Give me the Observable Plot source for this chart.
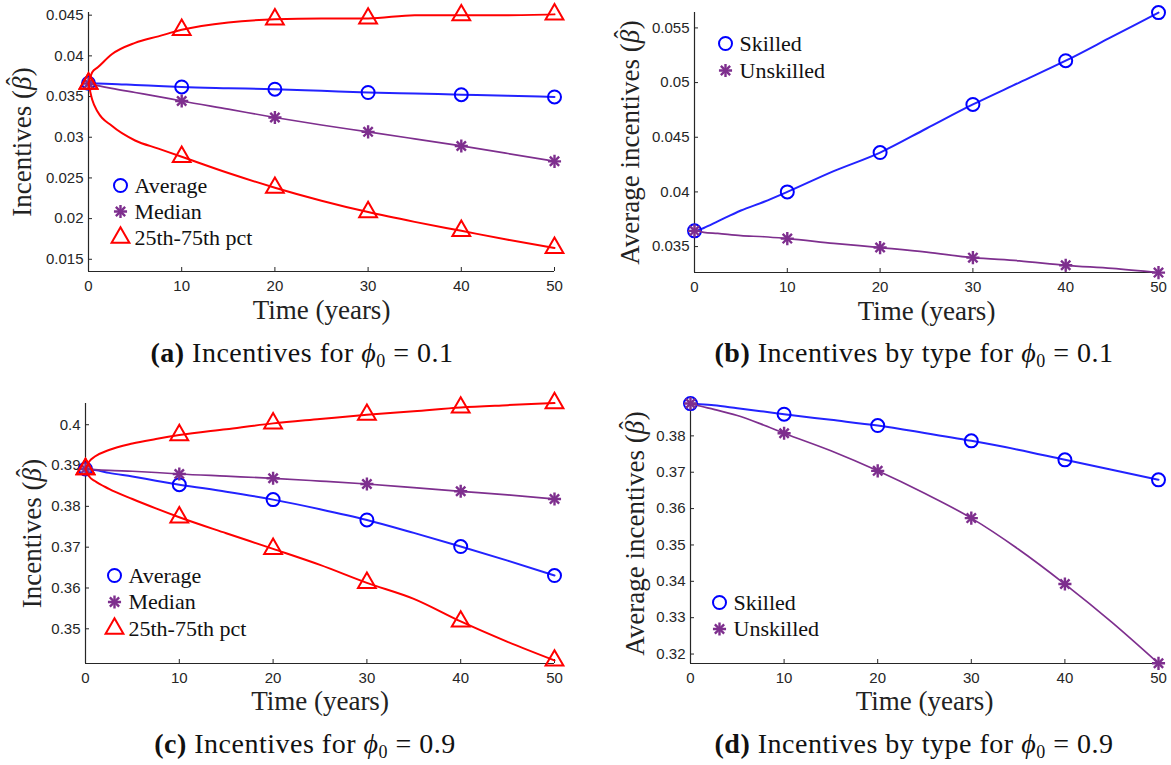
<!DOCTYPE html>
<html><head><meta charset="utf-8">
<script src="https://cdn.jsdelivr.net/npm/d3@7"></script>
<script src="https://cdn.jsdelivr.net/npm/@observablehq/plot@0.6"></script>
<style>
body{margin:0;background:#fff;}
#wrap{position:relative;width:1171px;height:765px;overflow:hidden;background:#fff;}
.panel{position:absolute;}
.cap{position:absolute;font-family:"Liberation Serif","DejaVu Serif",serif;font-size:28px;letter-spacing:0.5px;color:#111;white-space:nowrap;transform:translateX(-50%);line-height:30px;}
.cap sub{font-size:18px;vertical-align:-5px;line-height:0;}
</style></head><body><div id="wrap"></div>
<script>
// ---------- data ----------
const T = [0, 0.4, 1, 2.5, 5, 7.5, 10, 15, 20, 25, 30, 35, 40, 45, 50];
const xTicks = [0, 10, 20, 30, 40, 50];

// (a) phi0 = 0.1
const aAverage = [0.03664, 0.03663, 0.03660, 0.03655, 0.03642, 0.03630, 0.03618, 0.03603, 0.03590, 0.03570, 0.03550, 0.03537, 0.03523, 0.03510, 0.03495];
const aMedian  = [0.03660, 0.03650, 0.03635, 0.03600, 0.03550, 0.03500, 0.03445, 0.03345, 0.03243, 0.03150, 0.03066, 0.02980, 0.02893, 0.02800, 0.02704];
const aP75     = [0.03660, 0.03800, 0.03860, 0.04020, 0.04160, 0.04240, 0.04320, 0.04410, 0.04450, 0.04460, 0.04460, 0.04500, 0.04500, 0.04500, 0.04510];
const aP25     = [0.03660, 0.03460, 0.03310, 0.03140, 0.02960, 0.02860, 0.02760, 0.02560, 0.02380, 0.02220, 0.02080, 0.01960, 0.01850, 0.01740, 0.01640];
const aTicks = [0.015, 0.02, 0.025, 0.03, 0.035, 0.04, 0.045];

// (b) phi0 = 0.1 by type
const bSkilled   = [0.03644, 0.03650, 0.03670, 0.03730, 0.03830, 0.03910, 0.04000, 0.04190, 0.04360, 0.04580, 0.04800, 0.05000, 0.05200, 0.05420, 0.05640];
const bUnskilled = [0.03644, 0.03640, 0.03630, 0.03620, 0.03600, 0.03590, 0.03573, 0.03530, 0.03491, 0.03450, 0.03399, 0.03370, 0.03329, 0.03300, 0.03262];
const bTicks = [0.035, 0.04, 0.045, 0.05, 0.055];

// (c) phi0 = 0.9
const cAverage = [0.38915, 0.38900, 0.38890, 0.38820, 0.38730, 0.38630, 0.38532, 0.38360, 0.38165, 0.37930, 0.37667, 0.37350, 0.37015, 0.36670, 0.36305];
const cMedian  = [0.38915, 0.38910, 0.38900, 0.38880, 0.38860, 0.38830, 0.38793, 0.38740, 0.38687, 0.38620, 0.38548, 0.38460, 0.38369, 0.38280, 0.38181];
const cP75     = [0.38915, 0.39100, 0.39220, 0.39380, 0.39540, 0.39650, 0.39747, 0.39890, 0.40033, 0.40140, 0.40245, 0.40330, 0.40424, 0.40480, 0.40530];
const cP25     = [0.38915, 0.38730, 0.38620, 0.38430, 0.38180, 0.37950, 0.37732, 0.37340, 0.36958, 0.36566, 0.36126, 0.35734, 0.35180, 0.34680, 0.34225];
const cTicks = [0.35, 0.36, 0.37, 0.38, 0.39, 0.4];

// (d) phi0 = 0.9 by type
const dSkilled   = [0.38888, 0.38880, 0.38870, 0.38840, 0.38760, 0.38680, 0.38595, 0.38440, 0.38284, 0.38080, 0.37863, 0.37620, 0.37341, 0.37070, 0.36791];
const dUnskilled = [0.38888, 0.38860, 0.38820, 0.38730, 0.38560, 0.38330, 0.38073, 0.37590, 0.37038, 0.36420, 0.35738, 0.34890, 0.33925, 0.32880, 0.31745];
const dTicks = [0.32, 0.33, 0.34, 0.35, 0.36, 0.37, 0.38];

// ---------- styling ----------
const BLUE = "#0000ff", LBLUE = "#2323ff", PURPLE = "#7e2f8e", RED = "#ff0000";
const SERIF = "'Liberation Serif', 'DejaVu Serif', serif";
const SANS = "'Liberation Sans', Arial, sans-serif";
const fmt = d => String(+d.toFixed(3));

const styles = {
  circle:   {symbol: "circle", r: 6.5, stroke: BLUE, line: LBLUE, lw: 2},
  asterisk: {symbol: "asterisk", r: 4.3, stroke: PURPLE, line: PURPLE, lw: 1.7},
  triangle: {symbol: "triangle2", r: 8.5, stroke: RED, line: RED, lw: 2}
};

function rows(vals){ return T.map((t, i) => ({t, v: vals[i]})); }

function markerMarks(data, st, extra){
  if (st.symbol === "asterisk") {
    return ["plus", "times"].map(sym => Plot.dot(data, {...extra, symbol: sym, r: st.r, stroke: st.stroke, strokeWidth: 2.4, fill: "none"}));
  }
  return [Plot.dot(data, {...extra, symbol: st.symbol, r: st.r, stroke: st.stroke, strokeWidth: 2, fill: "none"})];
}

function panel(cfg){
  const marks = [];
  marks.push(Plot.ruleX([0], {stroke: "#262626", strokeWidth: 1.2}));
  marks.push(Plot.ruleY([cfg.domain[0]], {stroke: "#262626", strokeWidth: 1.2}));
  marks.push(Plot.axisX({ticks: xTicks, tickSize: -4, tickPadding: 13, fontSize: 15, fontFamily: SANS, label: null, tickFormat: d => String(d)}));
  marks.push(Plot.axisY({ticks: cfg.yTicks, tickSize: -4, tickPadding: 9, fontSize: 15, fontFamily: SANS, label: null, tickFormat: fmt}));
  for (const s of cfg.series){
    const st = styles[s.kind];
    const data = rows(s.values);
    marks.push(Plot.line(data, {x: "t", y: "v", stroke: st.line, strokeWidth: st.lw, curve: "monotone-x"}));
    for (const m of markerMarks(data.filter(d => xTicks.includes(d.t)), st, {x: "t", y: "v"})) marks.push(m);
  }
  // legend
  cfg.legend.items.forEach((it, i) => {
    const st = styles[it.kind];
    const dy = cfg.legend.dy + i * cfg.legend.step;
    for (const m of markerMarks([0], st, {frameAnchor: "top-left", dx: cfg.legend.dx, dy})) marks.push(m);
    marks.push(Plot.text([it.label], {frameAnchor: "top-left", dx: cfg.legend.dx + 14, dy, textAnchor: "start", lineAnchor: "middle", fontSize: 22, fontFamily: SERIF, fill: "#111"}));
  });
  // axis labels
  marks.push(Plot.text(["Time (years)"], {frameAnchor: "bottom", dy: cfg.xlabelDy, textAnchor: "middle", lineAnchor: "middle", fontSize: 27, fontFamily: SERIF, fill: "#222", letterSpacing: "1px"}));
  marks.push(Plot.text([cfg.ylabel], {frameAnchor: "left", dx: cfg.ylabelDx, rotate: -90, textAnchor: "middle", lineAnchor: "middle", fontSize: 27, fontFamily: SERIF, fill: "#222", letterSpacing: "1px"}));

  const svg = Plot.plot({
    width: cfg.width, height: cfg.height,
    marginLeft: cfg.mL, marginRight: cfg.mR, marginTop: cfg.mT, marginBottom: cfg.mB,
    x: {domain: [0, 50]},
    y: {domain: cfg.domain},
    style: {overflow: "visible", background: "transparent", color: "#262626"},
    marks
  });
  // italic beta with a hat placed above it
  svg.querySelectorAll("text").forEach(t => {
    if (t.textContent.includes("(β)")) {
      const [pre, post] = t.textContent.split("β");
      t.textContent = "";
      const ns = "http://www.w3.org/2000/svg";
      const mk = (s, attrs = {}) => { const e = document.createElementNS(ns, "tspan"); e.textContent = s; for (const k in attrs) e.setAttribute(k, attrs[k]); return e; };
      t.append(
        mk(pre),
        mk("β", {"font-style": "italic"}),
        mk("ˆ", {dx: "-0.36em", dy: "-0.28em", "font-size": "0.9em"}),
        mk(post, {dx: "0.04em", dy: "0.25em"})
      );
    }
  });
  svg.classList.add("panel");
  svg.style.left = cfg.left + "px";
  svg.style.top = cfg.top + "px";
  svg.style.maxWidth = "none";
  return svg;
}

const wrap = document.getElementById("wrap");

wrap.append(panel({
  left: 0, top: 0, width: 570, height: 330, mL: 88, mR: 16, mT: 12, mB: 59,
  domain: [0.0135, 0.04533], yTicks: aTicks, ylabel: "Incentives (β)", ylabelDx: -66, xlabelDy: 39,
  series: [{kind: "circle", values: aAverage}, {kind: "asterisk", values: aMedian}, {kind: "triangle", values: aP75}, {kind: "triangle", values: aP25}],
  legend: {dx: 32, dy: 173, step: 26, items: [{kind: "circle", label: "Average"}, {kind: "asterisk", label: "Median"}, {kind: "triangle", label: "25th-75th pct"}]}
}));

wrap.append(panel({
  left: 580, top: 0, width: 591, height: 330, mL: 114, mR: 13, mT: 12, mB: 58,
  domain: [0.03263, 0.05641], yTicks: bTicks, ylabel: "Average incentives (β)", ylabelDx: -64, xlabelDy: 39,
  series: [{kind: "circle", values: bSkilled}, {kind: "asterisk", values: bUnskilled}],
  legend: {dx: 31, dy: 31, step: 27, items: [{kind: "circle", label: "Skilled"}, {kind: "asterisk", label: "Unskilled"}]}
}));

wrap.append(panel({
  left: 0, top: 380, width: 570, height: 330, mL: 85, mR: 16, mT: 23, mB: 47,
  domain: [0.3415, 0.4052], yTicks: cTicks, ylabel: "Incentives (β)", ylabelDx: -53, xlabelDy: 38,
  series: [{kind: "circle", values: cAverage}, {kind: "asterisk", values: cMedian}, {kind: "triangle", values: cP75}, {kind: "triangle", values: cP25}],
  legend: {dx: 29, dy: 172, step: 26.5, items: [{kind: "circle", label: "Average"}, {kind: "asterisk", label: "Median"}, {kind: "triangle", label: "25th-75th pct"}]}
}));

wrap.append(panel({
  left: 580, top: 380, width: 591, height: 330, mL: 110, mR: 13, mT: 23, mB: 47,
  domain: [0.3174, 0.3889], yTicks: dTicks, ylabel: "Average incentives (β)", ylabelDx: -55, xlabelDy: 38,
  series: [{kind: "circle", values: dSkilled}, {kind: "asterisk", values: dUnskilled}],
  legend: {dx: 29, dy: 199, step: 26.5, items: [{kind: "circle", label: "Skilled"}, {kind: "asterisk", label: "Unskilled"}]}
}));

// captions
const captions = [
  {x: 302, y: 338, tag: "(a)", text: "Incentives for ", val: "0.1"},
  {x: 914, y: 338, tag: "(b)", text: "Incentives by type for ", val: "0.1"},
  {x: 305, y: 729, tag: "(c)", text: "Incentives for ", val: "0.9"},
  {x: 914, y: 729, tag: "(d)", text: "Incentives by type for ", val: "0.9"}
];
for (const c of captions){
  const d = document.createElement("div");
  d.className = "cap";
  d.style.left = c.x + "px"; d.style.top = c.y + "px";
  d.innerHTML = `<b>${c.tag}</b> ${c.text}<i>ϕ</i><sub>0</sub> = ${c.val}`;
  wrap.append(d);
}
</script></body></html>
